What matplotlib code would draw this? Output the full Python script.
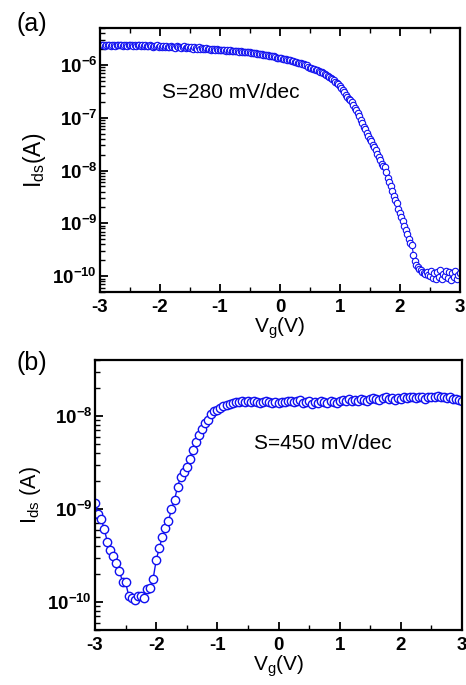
import numpy as np
import matplotlib
matplotlib.use("Agg")
import matplotlib.pyplot as plt
from matplotlib.ticker import FixedLocator, NullFormatter

plt.rcParams['font.family'] = ['Liberation Sans', 'DejaVu Sans']
plt.rcParams['mathtext.fontset'] = 'custom'
plt.rcParams['mathtext.rm'] = 'Liberation Sans'
plt.rcParams['mathtext.bf'] = 'Liberation Sans:bold'
plt.rcParams['mathtext.it'] = 'Liberation Sans:italic'

# ---------------- data ----------------
# Panel (a): gate sweep -3 V .. 3 V, step 0.025 V ; log10(Ids/A)
vg_a = np.linspace(-3.0, 3.0, 241)
log_ids_a = [
    -5.62, -5.63, -5.62, -5.64, -5.63, -5.62, -5.63, -5.64, -5.62, -5.63, -5.64, -5.62, -5.63, -5.63, -5.62, -5.64, -5.63, -5.62, -5.64, -5.63,
    -5.63, -5.62, -5.64, -5.63, -5.64, -5.62, -5.63, -5.65, -5.63, -5.64, -5.63, -5.65, -5.64, -5.63, -5.65, -5.66, -5.64, -5.65, -5.63, -5.66,
    -5.65, -5.67, -5.64, -5.66, -5.65, -5.67, -5.66, -5.64, -5.67, -5.66, -5.68, -5.65, -5.67, -5.66, -5.68, -5.67, -5.65, -5.68, -5.67, -5.66,
    -5.68, -5.66, -5.69, -5.67, -5.68, -5.70, -5.67, -5.69, -5.68, -5.70, -5.69, -5.68, -5.70, -5.69, -5.71, -5.69, -5.70, -5.71, -5.70, -5.71,
    -5.71, -5.72, -5.71, -5.72, -5.73, -5.72, -5.73, -5.72, -5.74, -5.73, -5.74, -5.73, -5.74, -5.75, -5.74, -5.75, -5.75, -5.76, -5.75, -5.76,
    -5.76, -5.77, -5.77, -5.78, -5.78, -5.79, -5.79, -5.80, -5.80, -5.81, -5.81, -5.82, -5.82, -5.83, -5.83, -5.84, -5.84, -5.85, -5.86, -5.86,
    -5.87, -5.87, -5.88, -5.89, -5.89, -5.90, -5.91, -5.91, -5.92, -5.93, -5.94, -5.95, -5.96, -5.97, -5.97, -5.98, -5.99, -6.00, -6.01, -6.03,
    -6.05, -6.06, -6.07, -6.08, -6.09, -6.10, -6.12, -6.13, -6.14, -6.16, -6.18, -6.19, -6.21, -6.23, -6.25, -6.27, -6.29, -6.32, -6.34, -6.37,
    -6.40, -6.44, -6.48, -6.52, -6.57, -6.60, -6.64, -6.67, -6.70, -6.76, -6.82, -6.86, -6.91, -6.97, -7.05, -7.10, -7.18, -7.22, -7.28, -7.35,
    -7.40, -7.45, -7.52, -7.55, -7.62, -7.68, -7.74, -7.80, -7.88, -7.91, -7.93, -8.03, -8.15, -8.22, -8.30, -8.38, -8.48, -8.55, -8.62, -8.72,
    -8.80, -8.88, -8.95, -9.05, -9.13, -9.20, -9.30, -9.38, -9.42, -9.60, -9.72, -9.78, -9.82, -9.86, -9.88, -9.92, -9.94, -9.96, -9.93, -9.97,
    -10.00, -9.90, -10.03, -9.95, -10.05, -9.92, -10.02, -9.88, -10.06, -9.96, -10.00, -9.90, -10.04, -9.93, -10.07, -9.95, -10.02, -9.91, -10.05, -9.97,
    -9.94,
]
ids_a = 10.0 ** np.array(log_ids_a)

# Panel (b): gate sweep -3 V .. 3 V, step 0.05 V ; log10(Ids/A)
vg_b = np.linspace(-3.0, 3.0, 121)
log_ids_b = [
    -8.93, -9.05, -9.11, -9.21, -9.35, -9.44, -9.50, -9.58, -9.67, -9.78,
    -9.79, -9.93, -9.96, -9.98, -9.94, -9.93, -9.96, -9.86, -9.85, -9.75,
    -9.55, -9.42, -9.30, -9.20, -9.13, -9.00, -8.90, -8.76, -8.65, -8.60,
    -8.55, -8.46, -8.36, -8.28, -8.20, -8.14, -8.07, -8.04, -7.98, -7.95,
    -7.93, -7.91, -7.89, -7.88, -7.87, -7.86, -7.85, -7.85, -7.84, -7.85,
    -7.84, -7.85, -7.84, -7.85, -7.86, -7.85, -7.84, -7.85, -7.86, -7.85,
    -7.86, -7.85, -7.85, -7.84, -7.84, -7.85, -7.84, -7.83, -7.86, -7.85,
    -7.84, -7.87, -7.85, -7.86, -7.84, -7.85, -7.86, -7.84, -7.85, -7.86,
    -7.84, -7.83, -7.84, -7.82, -7.84, -7.83, -7.84, -7.82, -7.83, -7.84,
    -7.82, -7.81, -7.82, -7.83, -7.81, -7.80, -7.82, -7.81, -7.83, -7.81,
    -7.82, -7.80, -7.81, -7.79, -7.80, -7.81, -7.79, -7.80, -7.82, -7.80,
    -7.79, -7.80, -7.78, -7.80, -7.79, -7.81, -7.80, -7.82, -7.82, -7.83,
    -7.84,
]
ids_b = 10.0 ** np.array(log_ids_b)

x_ticks = [-3, -2, -1, 0, 1, 2, 3]
x_ticklabels = ['-3', '-2', '-1', '0', '1', '2', '3']
y_ticks_a = [1e-10, 1e-9, 1e-8, 1e-7, 1e-6]
y_ticklabels_a = [r'$\mathbf{10^{-10}}$', r'$\mathbf{10^{-9}}$', r'$\mathbf{10^{-8}}$',
                  r'$\mathbf{10^{-7}}$', r'$\mathbf{10^{-6}}$']
y_ticks_b = [1e-10, 1e-9, 1e-8]
y_ticklabels_b = [r'$\mathbf{10^{-10}}$', r'$\mathbf{10^{-9}}$', r'$\mathbf{10^{-8}}$']

slope_a = 'S=280 mV/dec'
slope_b = 'S=450 mV/dec'

# ---------------- figure ----------------
fig = plt.figure(figsize=(4.66, 6.85), dpi=100)
ax_a = fig.add_axes([0.2146, 0.5737, 0.7725, 0.3854])
ax_b = fig.add_axes([0.2039, 0.0803, 0.7876, 0.3940])

blue = '#1010f0'


def minor_log(lo_exp, hi_exp):
    vals = []
    for e in range(lo_exp, hi_exp):
        for m in range(2, 10):
            vals.append(m * 10.0 ** e)
    return vals


def style(ax, yticks, ylabels, ylim, top_ticks, ylabel, ylabel_size):
    ax.set_yscale('log')
    ax.set_xlim(-3, 3)
    ax.set_ylim(*ylim)
    ax.set_xticks(x_ticks)
    ax.set_xticklabels(x_ticklabels, fontsize=13.5, fontweight='bold')
    ax.xaxis.set_minor_locator(FixedLocator([-2.5, -1.5, -0.5, 0.5, 1.5, 2.5]))
    ax.set_yticks(yticks)
    ax.set_yticklabels(ylabels, fontsize=13.5)
    ax.yaxis.set_minor_locator(FixedLocator(minor_log(-11, -5)))
    ax.yaxis.set_minor_formatter(NullFormatter())
    for s in ax.spines.values():
        s.set_linewidth(1.6)
    ax.tick_params(axis='both', which='major', direction='in', length=6, width=1.3,
                   top=top_ticks, right=False)
    ax.tick_params(axis='both', which='minor', direction='in', length=3.5, width=1.0,
                   top=top_ticks, right=False)
    ax.tick_params(axis='x', which='both', pad=5)
    ax.tick_params(axis='y', which='both', pad=2)
    ax.set_xlabel(r'V$_\mathregular{g}$(V)', fontsize=15, labelpad=0)
    ax.set_ylabel(ylabel, fontsize=ylabel_size, labelpad=3)


ax_a.plot(vg_a, ids_a, '-', color=blue, lw=0.8, marker='o', markersize=4.6,
          markerfacecolor='white', markeredgecolor=blue, markeredgewidth=0.8)
style(ax_a, y_ticks_a, y_ticklabels_a, (5e-11, 5e-6), True, r'I$_\mathregular{ds}$(A)', 16.5)
ax_a.text(-1.97, 10 ** -6.53, slope_a, fontsize=15, ha='left', va='center')

ax_b.plot(vg_b, ids_b, '-', color=blue, lw=1.0, marker='o', markersize=6.0,
          markerfacecolor='white', markeredgecolor=blue, markeredgewidth=1.0)
style(ax_b, y_ticks_b, y_ticklabels_b, (5e-11, 4e-8), False, r'I$_\mathregular{ds}$ (A)', 15.5)
ax_b.text(-0.40, 10 ** -8.29, slope_b, fontsize=15, ha='left', va='center')

fig.text(0.036, 0.982, '(a)', fontsize=18, ha='left', va='top')
fig.text(0.036, 0.488, '(b)', fontsize=18, ha='left', va='top')

fig.savefig('out.png', dpi=100)
